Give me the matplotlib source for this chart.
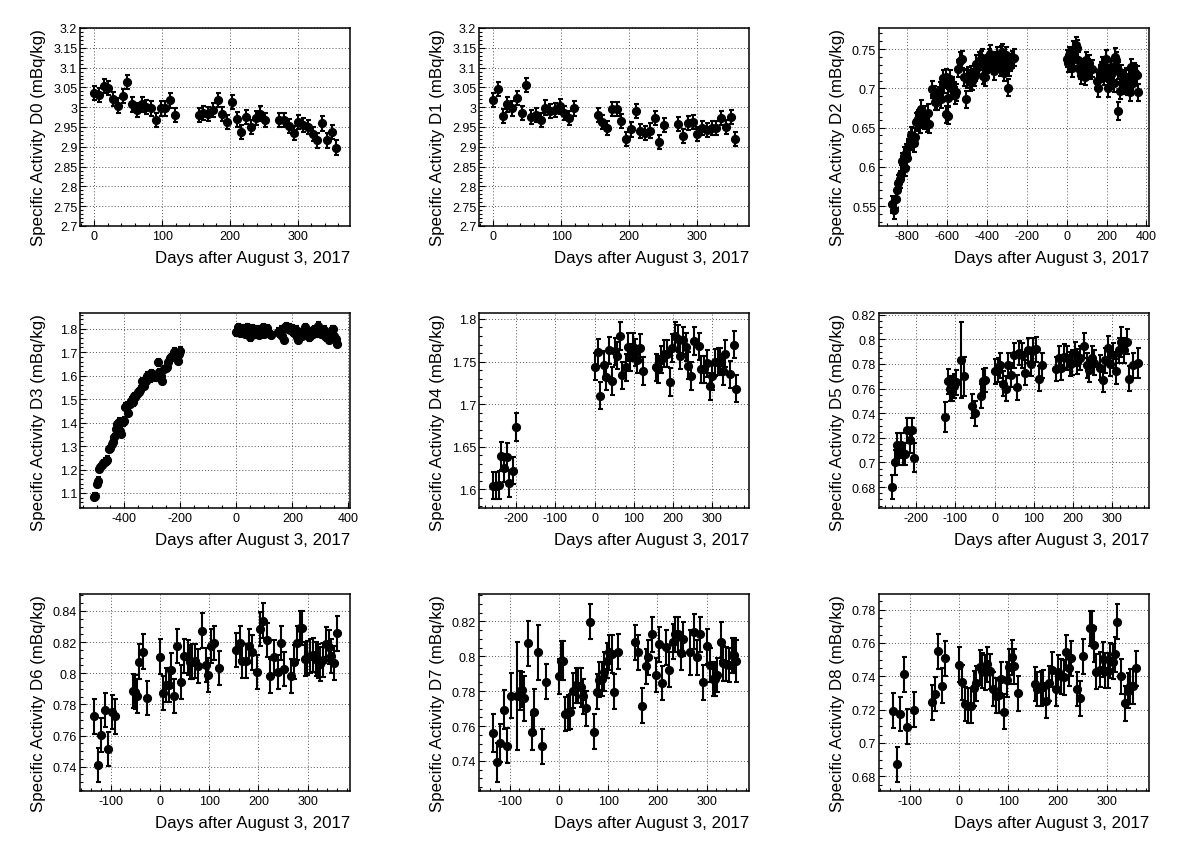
import matplotlib
matplotlib.use("Agg")
import matplotlib.pyplot as plt
from matplotlib.ticker import MultipleLocator, AutoMinorLocator, FuncFormatter

plt.rcParams['font.family'] = ['Liberation Sans', 'DejaVu Sans']
plt.rcParams['axes.unicode_minus'] = False

XLABEL = "Days after August 3, 2017"

# ---------------- data ----------------
d0_days = [0, 7, 14, 21, 28, 35, 42, 49, 56, 63, 70, 77, 84, 91, 98, 105, 112, 119,
           154, 161, 168, 175, 182, 189, 196, 203, 210, 217, 224, 231, 238, 245, 252,
           273, 280, 287, 294, 301, 308, 315, 322, 329, 336, 343, 350, 357]
d0_vals = [3.036, 3.030, 3.054, 3.048, 3.020, 3.004, 3.028, 3.063, 3.007, 2.992, 3.007, 3.001,
           2.997, 2.967, 2.997, 2.997, 3.017, 2.980,
           2.980, 2.985, 2.982, 2.993, 3.018, 2.982, 2.963, 3.014, 2.969, 2.937, 2.975, 2.950,
           2.972, 2.984, 2.967,
           2.967, 2.967, 2.952, 2.934, 2.962, 2.955, 2.950, 2.933, 2.916, 2.959, 2.916, 2.937, 2.898]
d0_err = 0.018

d1_days = [0, 7, 14, 21, 28, 35, 42, 49, 56, 63, 70, 77, 84, 91, 98, 105, 112, 119,
           154, 161, 168, 175, 182, 189, 196, 203, 210, 217, 224, 231, 238, 245, 252,
           273, 280, 287, 294, 301, 308, 315, 322, 329, 336, 343, 350, 357]
d1_vals = [3.018, 3.046, 2.977, 3.007, 2.997, 3.023, 2.986, 3.056, 2.975, 2.980, 2.968, 2.999,
           2.991, 2.993, 3.002, 2.985, 2.972, 2.997,
           2.980, 2.963, 2.948, 2.996, 2.996, 2.965, 2.920, 2.944, 2.991, 2.940, 2.934, 2.941,
           2.972, 2.913, 2.955,
           2.957, 2.928, 2.960, 2.962, 2.933, 2.947, 2.942, 2.948, 2.948, 2.972, 2.950, 2.975, 2.920]
d1_err = 0.018

d2_days = [-876, -869, -859, -853, -846, -839, -832, -825, -819, -812, -808, -802, -795, -788,
           -781, -775, -768, -761, -758, -751, -744, -737, -731, -724, -717, -710, -703, -697,
           -690, -676, -666, -659, -649, -642, -636, -629, -622, -615, -608, -605, -598, -595,
           -588, -581, -575, -568, -561, -554, -547, -537, -527, -514, -507, -500, -493, -486,
           -480, -473, -466, -459, -453, -446, -439, -432, -425, -419, -412, -405, -398, -392,
           -385, -378, -371, -364, -358, -351, -344, -337, -331, -324, -317, -310, -303, -297,
           -290, -283, -276, -266,
           0, 5, 12, 18, 25, 32, 38, 45, 52, 58, 65, 72, 78, 85, 92, 98, 105, 112, 118, 125,
           152, 158, 165, 172, 178, 185, 192, 198, 205, 208, 215, 222, 228, 235, 242, 248, 255,
           258, 265, 272, 278, 285, 292, 298, 305, 312, 318, 325, 332, 338, 345, 352, 358]
d2_vals = [0.552, 0.545, 0.559, 0.571, 0.579, 0.584, 0.591, 0.607, 0.614, 0.599, 0.618, 0.611,
           0.625, 0.633, 0.640, 0.638, 0.630, 0.638, 0.657, 0.659, 0.661, 0.654, 0.674, 0.665,
           0.659, 0.667, 0.655, 0.669, 0.654, 0.699, 0.692, 0.683, 0.683, 0.691, 0.697, 0.686,
           0.713, 0.705, 0.714, 0.667, 0.665, 0.688, 0.712, 0.701, 0.703, 0.697, 0.691, 0.695,
           0.725, 0.735, 0.737, 0.714, 0.686, 0.712, 0.716, 0.708, 0.718, 0.709, 0.714, 0.720,
           0.731, 0.727, 0.735, 0.737, 0.739, 0.716, 0.714, 0.725, 0.731, 0.739, 0.744, 0.735,
           0.729, 0.722, 0.735, 0.742, 0.733, 0.727, 0.743, 0.746, 0.720, 0.735, 0.742, 0.701,
           0.727, 0.733, 0.737, 0.739,
           0.738, 0.732, 0.742, 0.734, 0.726, 0.749, 0.740, 0.755, 0.751, 0.736, 0.723, 0.717,
           0.727, 0.723, 0.715, 0.736, 0.727, 0.732, 0.723, 0.725,
           0.710, 0.700, 0.719, 0.723, 0.729, 0.715, 0.721, 0.738, 0.719, 0.700, 0.715, 0.727,
           0.719, 0.707, 0.740, 0.736, 0.723, 0.671, 0.697, 0.719, 0.707, 0.712, 0.704, 0.715,
           0.702, 0.712, 0.695, 0.727, 0.707, 0.721, 0.719, 0.717, 0.695]
d2_err = 0.011

d3_days = [-510, -505, -500, -495, -490, -486, -481, -476, -471, -467, -462, -455, -450, -445,
           -440, -436, -431, -426, -421, -417, -412, -407, -402, -398, -390, -386, -381, -376,
           -371, -367, -362, -357, -352, -348, -343, -338, -333, -329, -324, -319, -314, -310,
           -305, -300, -295, -286, -281, -276, -271, -267, -257, -252, -248, -243, -238, -233,
           -229, -224, -219, -214, -210, -205, -200,
           0, 5, 10, 14, 19, 24, 29, 33, 38, 43, 48, 52, 57, 62, 67, 71, 76, 81, 86, 90, 95,
           100, 105, 110, 114, 119, 124,
           150, 155, 160, 164, 169, 174, 179, 183, 188, 193, 198, 202, 207, 212, 217, 221, 226,
           231, 236, 240, 245, 250, 255, 260, 264, 269, 274, 279, 283, 288, 293, 298, 302, 307,
           312, 317, 321, 326, 331, 336, 340, 345, 350, 355, 360]
d3_vals = [1.084, 1.088, 1.138, 1.152, 1.202, 1.209, 1.219, 1.228, 1.233, 1.237, 1.242, 1.287,
           1.290, 1.309, 1.316, 1.337, 1.372, 1.394, 1.404, 1.365, 1.351, 1.401, 1.408, 1.468,
           1.472, 1.441, 1.479, 1.493, 1.486, 1.512, 1.507, 1.522, 1.529, 1.532, 1.540, 1.578,
           1.564, 1.557, 1.578, 1.600, 1.593, 1.588, 1.611, 1.604, 1.600, 1.593, 1.657, 1.614,
           1.600, 1.578, 1.628, 1.634, 1.635, 1.657, 1.674, 1.678, 1.685, 1.702, 1.685, 1.674,
           1.664, 1.692, 1.706,
           1.784, 1.806, 1.799, 1.782, 1.791, 1.801, 1.777, 1.787, 1.806, 1.782, 1.763, 1.784,
           1.801, 1.787, 1.776, 1.796, 1.784, 1.773, 1.796, 1.784, 1.806, 1.777, 1.796, 1.801,
           1.787, 1.777, 1.773,
           1.787, 1.777, 1.796, 1.770, 1.753, 1.806, 1.810, 1.799, 1.806, 1.796, 1.801, 1.787,
           1.782, 1.796, 1.763, 1.753, 1.777, 1.784, 1.770, 1.796, 1.806, 1.782, 1.791, 1.763,
           1.770, 1.787, 1.777, 1.799, 1.796, 1.782, 1.813, 1.791, 1.777, 1.784, 1.796, 1.770,
           1.763, 1.782, 1.753, 1.777, 1.796, 1.799, 1.767, 1.756, 1.735]
d3_err = 0.014

d4_days = [-259, -250, -244, -237, -230, -222, -217, -208, -200,
           2, 8, 15, 24, 30, 37, 44, 51, 58, 64, 71, 80, 85, 91, 98, 103, 108, 115, 124,
           156, 162, 169, 176, 184, 191, 198, 205, 212, 218, 225, 232, 239, 246, 254, 267, 272,
           279, 286, 293, 299, 306, 313, 320, 327, 333, 345, 354, 360]
d4_vals = [1.604, 1.604, 1.605, 1.639, 1.625, 1.638, 1.607, 1.622, 1.673,
           1.744, 1.761, 1.710, 1.746, 1.732, 1.763, 1.727, 1.762, 1.757, 1.780, 1.734, 1.743,
           1.767, 1.755, 1.767, 1.761, 1.752, 1.766, 1.739,
           1.743, 1.741, 1.752, 1.759, 1.759, 1.726, 1.766, 1.780, 1.777, 1.757, 1.775, 1.767,
           1.745, 1.733, 1.774, 1.768, 1.741, 1.741, 1.748, 1.721, 1.733, 1.749, 1.750, 1.750,
           1.739, 1.759, 1.735, 1.770, 1.718]
d4_err = 0.016

d5_days = [-261, -254, -247, -242, -237, -232, -227, -222, -215, -210, -205,
           -126, -119, -114, -109, -104, -97, -85, -78, -57, -51, -35, -30, -25,
           1, 8, 15, 21, 28, 35, 42, 49, 57, 63, 69, 78, 85, 92, 98, 105, 114, 122,
           157, 163, 170, 177, 184, 191, 198, 204, 211, 218, 227, 234, 241, 247, 254, 268, 275,
           282, 288, 295, 302, 309, 316, 323, 330, 336, 343, 352, 364]
d5_vals = [0.680, 0.700, 0.714, 0.707, 0.714, 0.707, 0.707, 0.726, 0.718, 0.726, 0.704,
           0.737, 0.766, 0.760, 0.760, 0.762, 0.765, 0.783, 0.770, 0.746, 0.740, 0.754, 0.766,
           0.767,
           0.774, 0.775, 0.779, 0.764, 0.760, 0.779, 0.771, 0.787, 0.761, 0.789, 0.787, 0.773,
           0.791, 0.780, 0.791, 0.792, 0.768, 0.779,
           0.776, 0.785, 0.777, 0.786, 0.785, 0.780, 0.781, 0.788, 0.782, 0.785, 0.795, 0.779,
           0.775, 0.785, 0.781, 0.777, 0.767, 0.783, 0.793, 0.780, 0.787, 0.774, 0.791, 0.798,
           0.791, 0.798, 0.768, 0.779, 0.781]
d5_err = [0.010, 0.010, 0.010, 0.009, 0.010, 0.009, 0.009, 0.010, 0.010, 0.010, 0.012,
          0.012, 0.010, 0.010, 0.010, 0.010, 0.010, 0.031, 0.016, 0.010, 0.010, 0.010, 0.010,
          0.010,
          0.010, 0.010, 0.010, 0.010, 0.010, 0.010, 0.010, 0.010, 0.010, 0.010, 0.010, 0.010,
          0.010, 0.010, 0.010, 0.010, 0.010, 0.010,
          0.010, 0.010, 0.010, 0.010, 0.010, 0.010, 0.010, 0.010, 0.010, 0.010, 0.010, 0.010,
          0.010, 0.010, 0.010, 0.010, 0.010, 0.010, 0.010, 0.010, 0.010, 0.010, 0.010, 0.012,
          0.010, 0.010, 0.010, 0.010, 0.012]

d6_days = [-133, -125, -119, -112, -105, -97, -90,
           -55, -51, -47, -42, -35, -27,
           0, 7, 12, 18, 23, 28, 34, 43, 50, 57, 61, 66, 71, 77, 85, 93, 98, 104, 109, 120,
           155, 162, 167, 174, 181, 187, 197, 204, 210, 217, 223, 231, 239, 245, 252, 266, 272,
           279, 285, 289, 294, 299, 305, 310, 316, 321, 326, 332, 337, 343, 348, 353, 360]
d6_vals = [0.7723, 0.7410, 0.7603, 0.7766, 0.7513, 0.7753, 0.7723,
           0.7888, 0.7882, 0.7852, 0.8075, 0.8139, 0.7839,
           0.8107, 0.7873, 0.7925, 0.7925, 0.8021, 0.7856, 0.8177, 0.7946, 0.8113, 0.8102,
           0.8070, 0.8075, 0.8081, 0.8045, 0.8274, 0.8053, 0.7989, 0.8173, 0.8194, 0.8036,
           0.8149, 0.8192, 0.8081, 0.8081, 0.8177, 0.8134, 0.8006, 0.8284, 0.8338, 0.8214,
           0.7983, 0.8102, 0.8006, 0.8194, 0.8027, 0.7983, 0.8070, 0.8194, 0.8289, 0.8289,
           0.8092, 0.8096, 0.8113, 0.8117, 0.8092, 0.8081, 0.8060, 0.8087, 0.8188, 0.8167,
           0.8113, 0.8066, 0.8256]
d6_err = 0.011

d7_days = [-133, -125, -119, -112, -105, -97, -84, -78, -74, -70, -63, -55, -50, -42, -35, -27,
           0, 4, 8, 12, 18, 23, 28, 34, 39, 45, 50, 55, 63, 71, 78, 82, 88, 92, 97, 101, 107,
           113, 120,
           155, 161, 169, 177, 182, 189, 197, 204, 210, 217, 224, 231, 236, 241, 247, 252, 266,
           274, 280, 287, 293, 301, 306, 313, 318, 322, 329, 334, 340, 345, 351, 355, 359]
d7_vals = [0.7560, 0.7392, 0.7503, 0.7694, 0.7488, 0.7774, 0.7774, 0.7803, 0.7809, 0.7759,
           0.8074, 0.7564, 0.7683, 0.8022, 0.7484, 0.7854,
           0.7885, 0.7975, 0.7975, 0.7669, 0.7679, 0.7683, 0.7803, 0.7835, 0.7832, 0.7822,
           0.7770, 0.7702, 0.8198, 0.7568, 0.7797, 0.7866, 0.7870, 0.7912, 0.7975, 0.8022,
           0.8013, 0.7797, 0.8026,
           0.8080, 0.8022, 0.7717, 0.7943, 0.7994, 0.8127, 0.7893, 0.8070, 0.7847, 0.8051,
           0.7923, 0.8084, 0.8127, 0.8127, 0.8019, 0.8099, 0.8022, 0.8141, 0.7994, 0.8127,
           0.7851, 0.8057, 0.7950, 0.7870, 0.7870, 0.7893, 0.8084, 0.7961, 0.7956, 0.7950,
           0.8007, 0.8007, 0.7975]
d7_err = [0.011, 0.011, 0.011, 0.011, 0.010, 0.013, 0.031, 0.011, 0.010, 0.013, 0.013, 0.010,
          0.013, 0.016, 0.010, 0.010,
          0.010, 0.011, 0.011, 0.010, 0.010, 0.010, 0.010, 0.010, 0.010, 0.011, 0.010, 0.010,
          0.010, 0.010, 0.010, 0.010, 0.010, 0.011, 0.010, 0.010, 0.011, 0.010, 0.010,
          0.010, 0.010, 0.010, 0.010, 0.010, 0.010, 0.010, 0.010, 0.010, 0.010, 0.010, 0.010,
          0.010, 0.010, 0.010, 0.010, 0.013, 0.010, 0.010, 0.010, 0.010, 0.010, 0.010, 0.010,
          0.010, 0.010, 0.011, 0.010, 0.010, 0.010, 0.010, 0.010, 0.012]

d8_days = [-133, -125, -119, -112, -105, -90,
           -55, -49, -42, -35, -28,
           0, 7, 12, 19, 24, 30, 35, 42, 47, 53, 58, 63, 69, 76, 81, 86, 92, 98, 102, 107,
           112, 120,
           154, 159, 166, 171, 177, 183, 189, 197, 202, 208, 213, 218, 223, 228, 239, 245, 252,
           266, 270, 274, 279, 287, 293, 297, 302, 307, 313, 317, 322, 329, 337, 343, 348, 353,
           359]
d8_vals = [0.7194, 0.6874, 0.7174, 0.7414, 0.7098, 0.7200,
           0.7244, 0.7294, 0.7550, 0.7344, 0.7510,
           0.7470, 0.7364, 0.7234, 0.7224, 0.7224, 0.7328, 0.7358, 0.7454, 0.7434, 0.7424,
           0.7472, 0.7432, 0.7324, 0.7284, 0.7288, 0.7384, 0.7188, 0.7380, 0.7458, 0.7514,
           0.7460, 0.7300,
           0.7354, 0.7324, 0.7328, 0.7334, 0.7254, 0.7358, 0.7440, 0.7324, 0.7424, 0.7400,
           0.7394, 0.7544, 0.7448, 0.7508, 0.7324, 0.7270, 0.7520,
           0.7688, 0.7688, 0.7590, 0.7428, 0.7440, 0.7504, 0.7434, 0.7434, 0.7494, 0.7488,
           0.7534, 0.7728, 0.7400, 0.7240, 0.7314, 0.7340, 0.7340, 0.7450]
d8_err = 0.0105

panel_names = ["D0", "D1", "D2", "D3", "D4", "D5", "D6", "D7", "D8"]
panel_days = [d0_days, d1_days, d2_days, d3_days, d4_days, d5_days, d6_days, d7_days, d8_days]
panel_vals = [d0_vals, d1_vals, d2_vals, d3_vals, d4_vals, d5_vals, d6_vals, d7_vals, d8_vals]
panel_errs = [d0_err, d1_err, d2_err, d3_err, d4_err, d5_err, d6_err, d7_err, d8_err]

# ---------------- layout / style ----------------
W, H = 1192, 853
col_left = [80, 479, 879]
col_width = 270
rows = [(29, 227), (314, 509), (595, 792)]

xlims = [(-21, 377), (-21, 377), (-942, 413), (-559, 406), (-294, 393), (-294, 393),
         (-162, 386), (-162, 386), (-162, 386)]
ylims = [(2.7, 3.2), (2.7, 3.2), (0.5245, 0.777), (1.036, 1.867), (1.578, 1.807),
         (0.663, 0.8214), (0.7244, 0.8509), (0.7228, 0.8357), (0.6712, 0.7894)]
xmaj = [100, 100, 200, 200, 100, 100, 100, 100, 100]
xmin_div = [5, 5, 4, 4, 5, 5, 5, 5, 5]
ymaj = [0.05, 0.05, 0.05, 0.1, 0.05, 0.02, 0.02, 0.02, 0.02]
ymin_div = [5, 5, 5, 5, 5, 4, 4, 4, 4]

fig = plt.figure(figsize=(W / 100, H / 100), dpi=100)
fmt = FuncFormatter(lambda v, p: "{:g}".format(round(v, 6)))

for i in range(9):
    r, c = divmod(i, 3)
    top, bot = rows[r]
    ax = fig.add_axes([col_left[c] / W, 1 - bot / H, col_width / W, (bot - top) / H])
    ax.errorbar(panel_days[i], panel_vals[i], yerr=panel_errs[i], fmt='o', color='black',
                ms=5.6, elinewidth=1.5, capsize=1.8, capthick=1.5, zorder=3)
    ax.set_xlim(*xlims[i])
    ax.set_ylim(*ylims[i])
    ax.xaxis.set_major_locator(MultipleLocator(xmaj[i]))
    ax.xaxis.set_minor_locator(AutoMinorLocator(xmin_div[i]))
    ax.yaxis.set_major_locator(MultipleLocator(ymaj[i]))
    ax.yaxis.set_minor_locator(AutoMinorLocator(ymin_div[i]))
    ax.xaxis.set_major_formatter(fmt)
    ax.yaxis.set_major_formatter(fmt)
    ax.grid(True, which='major', color='#555555', linestyle=(0, (1, 2.2)), linewidth=0.7)
    ax.set_axisbelow(True)
    ax.tick_params(which='both', direction='in', top=False, right=False, width=0.8,
                   labelsize=9, colors='black')
    ax.tick_params(which='major', length=4.5)
    ax.tick_params(which='minor', length=2.3)
    ax.tick_params(axis='y', pad=2)
    ax.tick_params(axis='x', pad=3)
    for s in ax.spines.values():
        s.set_linewidth(1.1)
    ax.set_xlabel(XLABEL, fontsize=12.2, loc='right')
    ax.xaxis.set_label_coords(1.0, -24 / (bot - top))
    ax.set_ylabel("Specific Activity %s (mBq/kg)" % panel_names[i], fontsize=12.2, loc='top')
    ax.yaxis.set_label_coords(-34 / col_width, 1.0)

fig.savefig("out.png", dpi=100, facecolor='white')
